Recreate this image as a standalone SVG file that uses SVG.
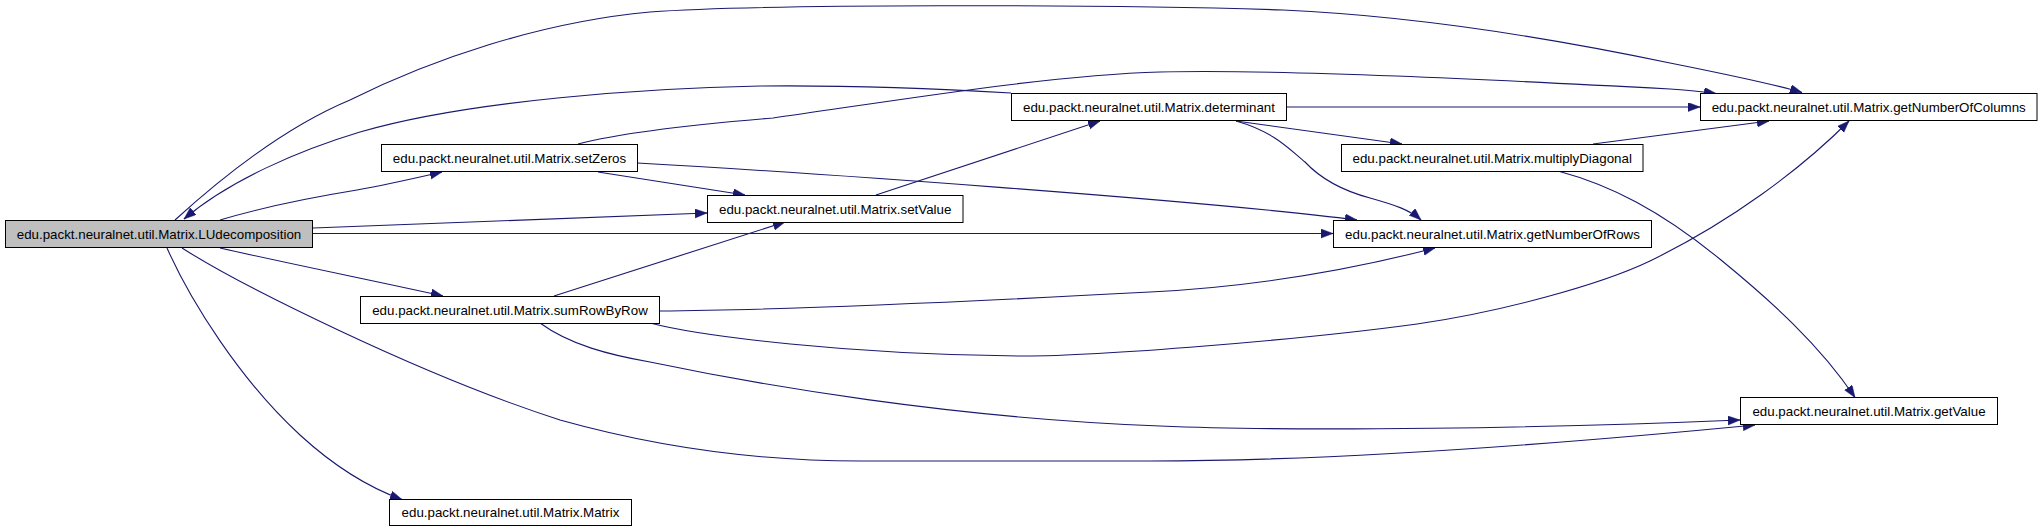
<svg xmlns="http://www.w3.org/2000/svg" width="2042" height="530" viewBox="0 0 2042 530">
<style>
.n rect{fill:#ffffff;stroke:#000000;stroke-width:1}
.n.root rect{fill:#bfbfbf}
.n text{font-family:"Liberation Sans",Arial,Helvetica,sans-serif;font-size:13.33px;fill:#000000;text-anchor:middle}
.e path{fill:none;stroke:#191970;stroke-width:1.1}
</style>
<defs>
<marker id="ah" markerUnits="userSpaceOnUse" markerWidth="14" markerHeight="10" refX="12" refY="4.5" orient="auto">
<path d="M0,0 L12,4.5 L0,9 z" fill="#191970" stroke="#191970" stroke-width="0.5"/>
</marker>
</defs>
<rect width="2042" height="530" fill="#ffffff"/>
<g id="connectors" class="e">
<path marker-end="url(#ah)" d="M175,220 C230,170 290,125 350,100 C430,60 540,22 650,12 C760,4 1100,4 1283,10 C1420,16 1560,40 1670,63 C1720,73 1770,83 1802,92.5"/>
<path marker-end="url(#ah)" d="M1011,93 C960,90 860,85 760,86 C650,88 470,100 360,132 C300,150 230,180 184,219"/>
<path marker-end="url(#ah)" d="M578,144 C620,133 700,124 773,118 C900,100 1050,75 1160,72 C1280,69 1500,80 1670,89 C1690,90 1705,92 1716,93.5"/>
<path marker-end="url(#ah)" d="M1287,107 L1700,107"/>
<path marker-end="url(#ah)" d="M1236,121 L1402,144"/>
<path marker-end="url(#ah)" d="M1236,121 C1275,132 1290,150 1305,162 C1320,178 1340,190 1370,198 C1395,205 1410,210 1421,220"/>
<path marker-end="url(#ah)" d="M1593,144 L1769,121"/>
<path marker-end="url(#ah)" d="M1558,171 C1610,185 1660,210 1721,260 C1770,300 1820,345 1855,397.5"/>
<path marker-end="url(#ah)" d="M876,195 L1100,121"/>
<path marker-end="url(#ah)" d="M598,172 L745,195"/>
<path marker-end="url(#ah)" d="M637,163 C800,172 1200,200 1357,220"/>
<path marker-end="url(#ah)" d="M220,220 C270,205 320,196 357,190 C390,184 420,177 442,172"/>
<path marker-end="url(#ah)" d="M313,228 L707,213"/>
<path marker-end="url(#ah)" d="M313,233.5 L1333,233.5"/>
<path marker-end="url(#ah)" d="M220,248 C300,266 380,282 443,296"/>
<path marker-end="url(#ah)" d="M182,248 C240,285 420,375 560,420 C660,448 760,461 860,461 L1150,461 C1350,461 1600,440 1755,425"/>
<path marker-end="url(#ah)" d="M167,248 C190,300 240,380 300,435 C335,467 370,488 402,499.5"/>
<path marker-end="url(#ah)" d="M554,296 L785,222"/>
<path marker-end="url(#ah)" d="M659,311 C800,310 1000,300 1150,292 C1250,287 1350,270 1435,248"/>
<path marker-end="url(#ah)" d="M650,323 C700,336 850,355 1023,356 C1100,356 1300,340 1417,324 C1500,312 1600,285 1650,261 C1730,222 1800,170 1849,121"/>
<path marker-end="url(#ah)" d="M540,323 C570,345 610,355 650,362 C760,385 950,418 1160,426 C1300,432 1550,428 1740,420"/>
</g>
<g id="node-LUdecomposition" class="n root"><rect x="5.5" y="220.5" width="307" height="27"/><text x="159" y="238.7">edu.packt.neuralnet.util.Matrix.LUdecomposition</text></g>
<g id="node-setZeros" class="n"><rect x="381.5" y="144.5" width="256" height="27"/><text x="509.5" y="162.7">edu.packt.neuralnet.util.Matrix.setZeros</text></g>
<g id="node-sumRowByRow" class="n"><rect x="360.5" y="296.5" width="299" height="27"/><text x="510" y="314.7">edu.packt.neuralnet.util.Matrix.sumRowByRow</text></g>
<g id="node-setValue" class="n"><rect x="707.5" y="195.5" width="255.5" height="27"/><text x="835.2" y="213.7">edu.packt.neuralnet.util.Matrix.setValue</text></g>
<g id="node-determinant" class="n"><rect x="1011.5" y="93.5" width="275" height="27"/><text x="1149" y="111.7">edu.packt.neuralnet.util.Matrix.determinant</text></g>
<g id="node-getNumberOfColumns" class="n"><rect x="1700.5" y="93.5" width="336.5" height="27"/><text x="1868.7" y="111.7">edu.packt.neuralnet.util.Matrix.getNumberOfColumns</text></g>
<g id="node-multiplyDiagonal" class="n"><rect x="1341.5" y="144.5" width="301.5" height="27"/><text x="1492.2" y="162.7">edu.packt.neuralnet.util.Matrix.multiplyDiagonal</text></g>
<g id="node-getNumberOfRows" class="n"><rect x="1333.5" y="220.5" width="318" height="27"/><text x="1492.5" y="238.7">edu.packt.neuralnet.util.Matrix.getNumberOfRows</text></g>
<g id="node-getValue" class="n"><rect x="1740.5" y="397.5" width="257" height="27"/><text x="1869" y="415.7">edu.packt.neuralnet.util.Matrix.getValue</text></g>
<g id="node-Matrix" class="n"><rect x="389.5" y="499.5" width="242" height="26"/><text x="510.5" y="517.2">edu.packt.neuralnet.util.Matrix.Matrix</text></g>
</svg>
